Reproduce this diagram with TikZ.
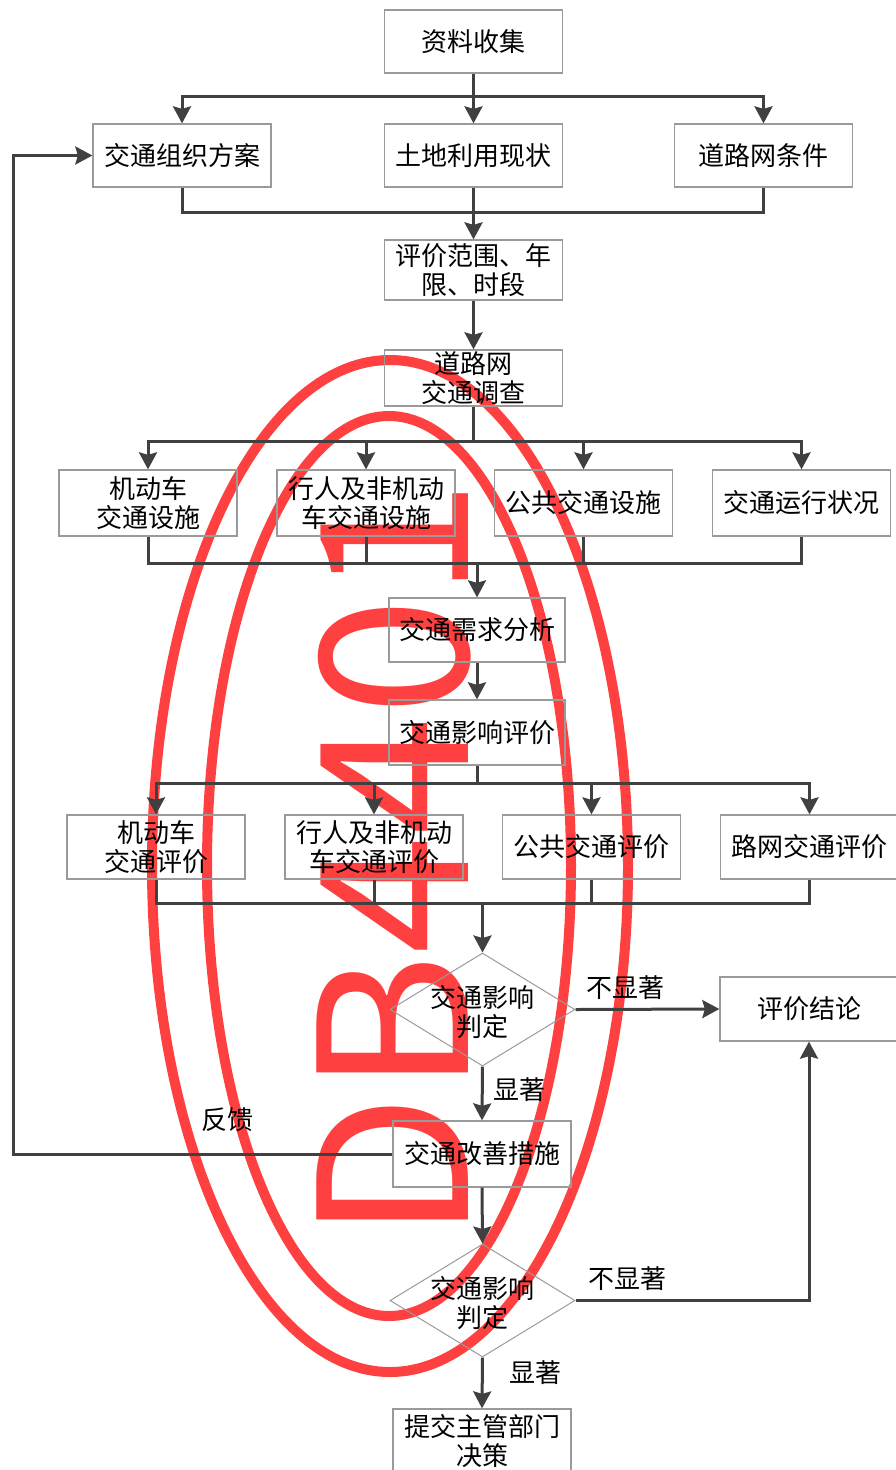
\documentclass[tikz,border=0pt]{standalone}
\usepackage{fontspec}
\newfontfamily\cjk{Noto Sans CJK SC}
\usetikzlibrary{shapes.geometric,arrows.meta,calc}
\definecolor{boxgray}{HTML}{9A9A9A}
\definecolor{linegray}{HTML}{404040}
\definecolor{wmred}{HTML}{FF4040}
\begin{document}
\begin{tikzpicture}[x=1pt,y=-1pt,
 box/.style={draw=boxgray,line width=1.3pt,minimum width=178pt,minimum height=64pt,inner sep=0pt,align=center,font=\cjk\fontsize{26}{29}\selectfont,text=black},
 dia/.style={draw=boxgray,line width=1pt,diamond,minimum width=185pt,minimum height=113pt,inner sep=0pt},
 conn/.style={draw=linegray,line width=3pt},
 arr/.style={conn,-{Stealth[length=17pt,width=18pt,inset=2.5pt]}},
 lbl/.style={font=\cjk\fontsize{26}{29}\selectfont,inner sep=0pt,text=black}]
\useasboundingbox (0,0) rectangle (895,1470);
% watermark
\draw[wmred,line width=10pt] (390,866) ellipse [x radius=238,y radius=506];
\draw[wmred,line width=10pt] (389,866) ellipse [x radius=182,y radius=450];
\node[rotate=90,anchor=base west,inner sep=0pt,text=wmred,font=\cjk\fontsize{207}{207}\selectfont] (wm) at (468,1242) {\scalebox{1.033}[1]{DB4401}};
% nodes
\node[box,minimum height=63pt] (n1) at (473.5,41.5) {资料收集};
\node[box,minimum height=63pt] (n2a) at (182,155.5) {交通组织方案};
\node[box,minimum height=63pt] (n2b) at (473.5,155.5) {土地利用现状};
\node[box,minimum height=63pt] (n2c) at (763.5,155.5) {道路网条件};
\node[box,minimum height=60pt] (n3) at (473.5,270) {评价范围、年\\限、时段};
\node[box,minimum height=56pt] (n4) at (473.5,378) {道路网\\交通调查};
\node[box,minimum height=66pt] (r4a) at (148,503) {机动车\\交通设施};
\node[box,minimum height=66pt] (r4b) at (366,503) {行人及非机动\\车交通设施};
\node[box,minimum height=66pt] (r4c) at (583.5,503) {公共交通设施};
\node[box,minimum height=66pt] (r4d) at (801.5,503) {交通运行状况};
\node[box,minimum width=176pt] (n5) at (477,630) {交通需求分析};
\node[box,minimum width=176pt,minimum height=65pt] (n6) at (477,732.5) {交通影响评价};
\node[box] (r6a) at (156,847) {机动车\\交通评价};
\node[box] (r6b) at (374,847) {行人及非机动\\车交通评价};
\node[box] (r6c) at (591.5,847) {公共交通评价};
\node[box] (r6d) at (809.5,847) {路网交通评价};
\node[dia] (d1) at (482.5,1009.5) {};
\node[lbl,align=center] (d1t) at (482.5,1012) {交通影响\\判定};
\node[box] (res) at (809,1009) {评价结论};
\node[box,minimum height=66pt] (n7) at (482,1154) {交通改善措施};
\node[dia] (d2) at (482.5,1300.5) {};
\node[lbl,align=center] (d2t) at (482.5,1303) {交通影响\\判定};
\node[box] (n8) at (482,1441) {提交主管部门\\决策};
% connectors
\coordinate (b1) at (473.5,96);
\draw[arr] (n1.south) -- (n2b.north);
\draw[arr] (b1) -| (n2a.north);
\draw[arr] (b1) -| (n2c.north);
\coordinate (b2) at (473.5,212);
\draw[conn] (n2a.south) |- (b2) -| (n2c.south);
\draw[arr] (n2b.south) -- (n3.north);
\draw[arr] (n3.south) -- (n4.north);
\coordinate (b3) at (473.5,441);
\draw[conn] (n4.south) -- (b3);
\foreach \t in {r4a,r4b,r4c,r4d} \draw[arr] (b3) -| (\t.north);
\coordinate (b4) at (477,563);
\draw[conn] (r4a.south) |- (b4) -| (r4d.south);
\draw[conn] (r4b.south) -- (r4b.south |- b4);
\draw[conn] (r4c.south) -- (r4c.south |- b4);
\draw[arr] (b4) -- (n5.north);
\draw[arr] (n5.south) -- (n6.north);
\coordinate (b5) at (477,783);
\draw[conn] (n6.south) -- (b5);
\foreach \t in {r6a,r6b,r6c,r6d} \draw[arr] (b5) -| (\t.north);
\coordinate (b6) at (482.5,903);
\draw[conn] (r6a.south) |- (b6) -| (r6d.south);
\draw[conn] (r6b.south) -- (r6b.south |- b6);
\draw[conn] (r6c.south) -- (r6c.south |- b6);
\draw[arr] (b6) -- (d1.north);
\draw[arr] (d1.east) -- (res.west);
\draw[arr] (d1.south) -- (n7.north);
\coordinate (fb) at (13,1154);
\draw[arr] (n7.west) -- (fb) |- (n2a.west);
\draw[arr] (n7.south) -- (d2.north);
\draw[arr] (d2.east) -| (res.south);
\draw[arr] (d2.south) -- (n8.north);
% labels
\node[lbl] (l1) at (625,988) {不显著};
\node[lbl] (l2) at (519,1090) {显著};
\node[lbl] (l3) at (227,1120) {反馈};
\node[lbl] (l4) at (627,1279) {不显著};
\node[lbl] (l5) at (535,1373) {显著};
\end{tikzpicture}
\end{document}
